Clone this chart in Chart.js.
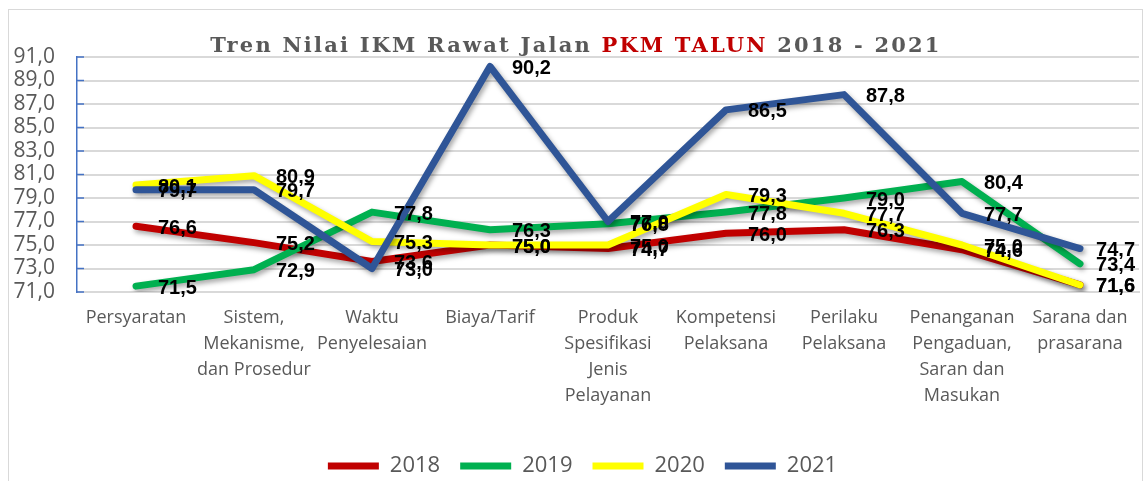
<!DOCTYPE html>
<html>
<head>
<meta charset="utf-8">
<script src="https://cdn.jsdelivr.net/npm/chart.js@4/dist/chart.umd.min.js"></script>
<style>
  html, body { margin: 0; padding: 0; background: #fff; }
  #wrap { position: relative; width: 1143px; height: 481px; overflow: hidden; }
  #frame { position: absolute; left: 8px; top: 9px; width: 1135px; height: 480px;
           border: 1px solid #d9d9d9; box-sizing: border-box; pointer-events: none; }
  #title { position: absolute; left: 0; top: 33px; width: 1152px; text-align: center;
           font-family: "DejaVu Serif", serif; font-weight: bold; font-size: 21px;
           line-height: 24px; letter-spacing: 2.2px; color: #595959; white-space: nowrap; }
  #title .red { color: #c00000; }
</style>
</head>
<body>
<div id="wrap">
  <canvas id="ikmChart" width="1143" height="481"></canvas>
  <div id="frame"></div>
  <div id="title">Tren Nilai IKM Rawat Jalan <span class="red">PKM TALUN</span> 2018 - 2021</div>
</div>
<script>
// categories (unsur pelayanan)
var categories = [
  ['Persyaratan'],
  ['Sistem,', 'Mekanisme,', 'dan Prosedur'],
  ['Waktu', 'Penyelesaian'],
  ['Biaya/Tarif'],
  ['Produk', 'Spesifikasi', 'Jenis', 'Pelayanan'],
  ['Kompetensi', 'Pelaksana'],
  ['Perilaku', 'Pelaksana'],
  ['Penanganan', 'Pengaduan,', 'Saran dan', 'Masukan'],
  ['Sarana dan', 'prasarana']
];

var years = ['2018', '2019', '2020', '2021'];
var ikm2018 = [76.6, 75.2, 73.6, 75.0, 74.7, 76.0, 76.3, 74.6, 71.6];
var ikm2019 = [71.5, 72.9, 77.8, 76.3, 76.8, 77.8, 79.0, 80.4, 73.4];
var ikm2020 = [80.1, 80.9, 75.3, 75.0, 75.0, 79.3, 77.7, 75.0, 71.6];
var ikm2021 = [79.7, 79.7, 73.0, 90.2, 77.0, 86.5, 87.8, 77.7, 74.7];
var colors = ['#c00000', '#00b050', '#ffff00', '#2f5597'];

var yMin = 71, yMax = 91, yStep = 2;

function koma(v) {
  return Number(v).toFixed(1).replace('.', ',');
}

// soft shadow under each line, like the excel effect
var lineShadow = {
  id: 'lineShadow',
  beforeDatasetDraw: function(chart) {
    var c = chart.ctx;
    c.save();
    c.shadowColor = 'rgba(0,0,0,0.35)';
    c.shadowBlur = 5;
    c.shadowOffsetX = 2;
    c.shadowOffsetY = 3;
  },
  afterDatasetDraw: function(chart) {
    chart.ctx.restore();
  }
};

// legend in the original sits a bit right of centre
var legendShift = {
  id: 'legendShift',
  afterLayout: function(chart) {
    chart.legend.left += 13;
    chart.legend.right += 13;
  }
};

// small tick marks on the inside of the y axis
var innerTicks = {
  id: 'innerTicks',
  beforeDatasetsDraw: function(chart) {
    var s = chart.scales.y, ctx = chart.ctx;
    ctx.save();
    ctx.strokeStyle = '#4472c4';
    ctx.lineWidth = 1.5;
    s.ticks.forEach(function(t) {
      var y = s.getPixelForValue(t.value);
      ctx.beginPath();
      ctx.moveTo(s.right, y);
      ctx.lineTo(s.right + 7, y);
      ctx.stroke();
    });
    ctx.restore();
  }
};

// value labels right of each point
var valueLabels = {
  id: 'valueLabels',
  afterDatasetsDraw: function(chart) {
    var ctx = chart.ctx;
    ctx.save();
    ctx.font = 'bold 20px "Liberation Sans", Arial, sans-serif';
    ctx.fillStyle = '#000';
    ctx.textBaseline = 'middle';
    ctx.textAlign = 'left';
    chart.data.datasets.forEach(function(ds, i) {
      var meta = chart.getDatasetMeta(i);
      meta.data.forEach(function(pt, j) {
        var txt = koma(ds.data[j]);
        var w = ctx.measureText(txt).width;
        var x = Math.min(pt.x + 22, chart.width - 8 - w);
        ctx.fillText(txt, x, pt.y + 2);
      });
    });
    ctx.restore();
  }
};

var series = [ikm2018, ikm2019, ikm2020, ikm2021];
var datasets = [];
for (var i = 0; i < series.length; i++) {
  datasets.push({
    label: years[i],
    data: series[i],
    borderColor: colors[i],
    backgroundColor: colors[i],
    borderWidth: 7,
    pointRadius: 0,
    tension: 0,
    borderCapStyle: 'round',
    borderJoinStyle: 'round',
    order: series.length - i
  });
}

var ikmChart = new Chart('ikmChart', {
  type: 'line',
  data: { labels: categories, datasets: datasets },
  plugins: [lineShadow, legendShift, innerTicks, valueLabels],
  options: {
    responsive: false,
    animation: false,
    layout: { padding: { top: 57, right: 4, left: 0, bottom: -6 } },
    plugins: {
      title: { display: false },
      tooltip: { enabled: false },
      legend: {
        position: 'bottom',
        labels: {
          usePointStyle: true,
          pointStyle: 'line',
          pointStyleWidth: 51,
          color: '#595959',
          font: { family: '"Open Sans"', size: 22 },
          padding: 20,
          sort: function(a, b) { return a.datasetIndex - b.datasetIndex; }
        }
      }
    },
    scales: {
      x: {
        offset: true,
        grid: { display: false, drawTicks: false },
        border: { display: true, color: '#d9d9d9', width: 2 },
        ticks: {
          color: '#595959',
          font: { family: '"Open Sans"', size: 18, lineHeight: 1.444 },
          padding: 13,
          maxRotation: 0,
          minRotation: 0,
          autoSkip: false
        },
        afterFit: function(s) { s.height = 143; }
      },
      y: {
        min: yMin,
        max: yMax,
        grid: { color: '#d9d9d9', lineWidth: 2, drawTicks: false },
        border: { color: '#4472c4', width: 1.5 },
        ticks: {
          stepSize: yStep,
          autoSkip: false,
          color: '#595959',
          font: { family: '"Open Sans"', size: 21 },
          padding: 22,
          callback: function(v) { return koma(v); }
        },
        afterFit: function(s) { s.width = 77; }
      }
    }
  }
});
</script>
</body>
</html>
